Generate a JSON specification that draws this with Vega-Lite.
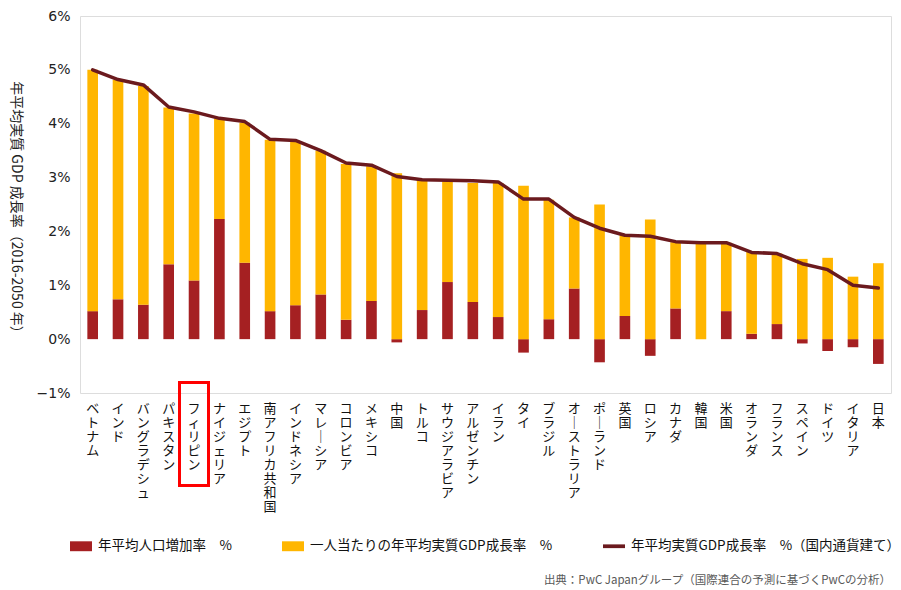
{
  "$schema": "https://vega.github.io/schema/vega-lite/v6.json",
  "autosize": {"type": "none"},
  "padding": {"left": 80, "top": 16, "right": 10, "bottom": 197},
  "width": 811,
  "height": 377,
  "background": "white",
  "title": {
    "text": "出典：PwC Japanグループ（国際連合の予測に基づくPwCの分析）",
    "orient": "bottom",
    "anchor": "end",
    "frame": "group",
    "offset": 22,
    "fontSize": 11.5,
    "fontWeight": "normal",
    "font": "Noto Sans CJK JP",
    "color": "#595959"
  },
  "data": {
    "values": [
      {"country": "ベトナム", "年平均人口増加率　%": 0.52, "一人当たりの年平均実質GDP成長率　%": 4.48, "total": 5.00},
      {"country": "インド", "年平均人口増加率　%": 0.74, "一人当たりの年平均実質GDP成長率　%": 4.07, "total": 4.82},
      {"country": "バングラデシュ", "年平均人口増加率　%": 0.64, "一人当たりの年平均実質GDP成長率　%": 4.06, "total": 4.72},
      {"country": "パキスタン", "年平均人口増加率　%": 1.39, "一人当たりの年平均実質GDP成長率　%": 2.91, "total": 4.31},
      {"country": "フィリピン", "年平均人口増加率　%": 1.09, "一人当たりの年平均実質GDP成長率　%": 3.10, "total": 4.22},
      {"country": "ナイジェリア", "年平均人口増加率　%": 2.23, "一人当たりの年平均実質GDP成長率　%": 1.86, "total": 4.10},
      {"country": "エジプト", "年平均人口増加率　%": 1.42, "一人当たりの年平均実質GDP成長率　%": 2.60, "total": 4.04},
      {"country": "南アフリカ共和国", "年平均人口増加率　%": 0.52, "一人当たりの年平均実質GDP成長率　%": 3.18, "total": 3.71},
      {"country": "インドネシア", "年平均人口増加率　%": 0.63, "一人当たりの年平均実質GDP成長率　%": 3.04, "total": 3.69},
      {"country": "マレーシア", "年平均人口増加率　%": 0.83, "一人当たりの年平均実質GDP成長率　%": 2.67, "total": 3.50},
      {"country": "コロンビア", "年平均人口増加率　%": 0.36, "一人当たりの年平均実質GDP成長率　%": 2.89, "total": 3.27},
      {"country": "メキシコ", "年平均人口増加率　%": 0.71, "一人当たりの年平均実質GDP成長率　%": 2.50, "total": 3.23},
      {"country": "中国", "年平均人口増加率　%": -0.06, "一人当たりの年平均実質GDP成長率　%": 3.08, "total": 3.02},
      {"country": "トルコ", "年平均人口増加率　%": 0.54, "一人当たりの年平均実質GDP成長率　%": 2.42, "total": 2.96},
      {"country": "サウジアラビア", "年平均人口増加率　%": 1.06, "一人当たりの年平均実質GDP成長率　%": 1.87, "total": 2.95},
      {"country": "アルゼンチン", "年平均人口増加率　%": 0.69, "一人当たりの年平均実質GDP成長率　%": 2.21, "total": 2.94},
      {"country": "イラン", "年平均人口増加率　%": 0.41, "一人当たりの年平均実質GDP成長率　%": 2.49, "total": 2.92},
      {"country": "タイ", "年平均人口増加率　%": -0.25, "一人当たりの年平均実質GDP成長率　%": 2.85, "total": 2.60},
      {"country": "ブラジル", "年平均人口増加率　%": 0.37, "一人当たりの年平均実質GDP成長率　%": 2.22, "total": 2.60},
      {"country": "オーストラリア", "年平均人口増加率　%": 0.94, "一人当たりの年平均実質GDP成長率　%": 1.32, "total": 2.26},
      {"country": "ポーランド", "年平均人口増加率　%": -0.43, "一人当たりの年平均実質GDP成長率　%": 2.50, "total": 2.06},
      {"country": "英国", "年平均人口増加率　%": 0.43, "一人当たりの年平均実質GDP成長率　%": 1.50, "total": 1.93},
      {"country": "ロシア", "年平均人口増加率　%": -0.31, "一人当たりの年平均実質GDP成長率　%": 2.22, "total": 1.91},
      {"country": "カナダ", "年平均人口増加率　%": 0.57, "一人当たりの年平均実質GDP成長率　%": 1.23, "total": 1.81},
      {"country": "韓国", "年平均人口増加率　%": 0.0, "一人当たりの年平均実質GDP成長率　%": 1.79, "total": 1.79},
      {"country": "米国", "年平均人口増加率　%": 0.52, "一人当たりの年平均実質GDP成長率　%": 1.27, "total": 1.79},
      {"country": "オランダ", "年平均人口増加率　%": 0.10, "一人当たりの年平均実質GDP成長率　%": 1.52, "total": 1.61},
      {"country": "フランス", "年平均人口増加率　%": 0.28, "一人当たりの年平均実質GDP成長率　%": 1.31, "total": 1.59},
      {"country": "スペイン", "年平均人口増加率　%": -0.08, "一人当たりの年平均実質GDP成長率　%": 1.49, "total": 1.40},
      {"country": "ドイツ", "年平均人口増加率　%": -0.22, "一人当たりの年平均実質GDP成長率　%": 1.51, "total": 1.29},
      {"country": "イタリア", "年平均人口増加率　%": -0.15, "一人当たりの年平均実質GDP成長率　%": 1.16, "total": 1.00},
      {"country": "日本", "年平均人口増加率　%": -0.46, "一人当たりの年平均実質GDP成長率　%": 1.41, "total": 0.95}
    ]
  },
  "encoding": {
    "x": {
      "field": "country",
      "type": "nominal",
      "sort": null,
      "scale": {"paddingInner": 0.58, "paddingOuter": 0.29},
      "axis": {
        "title": null,
        "orient": "bottom",
        "labelAngle": 0,
        "labelAlign": "center",
        "labelBaseline": "top",
        "labelFont": "Noto Sans CJK JP",
        "labelFontSize": 13,
        "labelLineHeight": 14,
        "labelColor": "#111111",
        "labelPadding": 9,
        "labelLimit": 0,
        "labelOverlap": false,
        "labelExpr": "split(replace(datum.label, regexp('ー', 'g'), '｜'), '')",
        "ticks": false,
        "domain": false,
        "grid": false
      }
    }
  },
  "layer": [
    {
      "transform": [
        {"fold": ["年平均人口増加率　%", "一人当たりの年平均実質GDP成長率　%"], "as": ["series", "value"]}
      ],
      "mark": {"type": "bar"},
      "encoding": {
        "y": {
          "field": "value",
          "type": "quantitative",
          "stack": "zero",
          "scale": {"domain": [-1, 6], "nice": false, "zero": false},
          "axis": {
            "values": [-1, 0, 1, 2, 3, 4, 5, 6],
            "labelExpr": "datum.value < 0 ? '−' + abs(datum.value) + '%' : datum.value + '%'",
            "labelFont": "DejaVu Sans",
            "labelFontSize": 14,
            "labelColor": "#222222",
            "labelPadding": 10,
            "ticks": false,
            "domain": false,
            "grid": false,
            "title": "年平均実質 GDP 成長率（2016-2050 年）",
            "titleFont": "Noto Sans CJK JP",
            "titleFontSize": 14,
            "titleFontWeight": "normal",
            "titleColor": "#222222",
            "titleAngle": 90,
            "titleX": -65,
            "titleY": 194,
            "titleAlign": "center",
            "titleBaseline": "middle"
          }
        },
        "color": {
          "field": "series",
          "type": "nominal",
          "scale": {
            "domain": ["年平均人口増加率　%", "一人当たりの年平均実質GDP成長率　%", "年平均実質GDP成長率　%（国内通貨建て）"],
            "range": ["#A52022", "#FFB600", "#6B1A1E"]
          },
          "legend": {
            "title": null,
            "orient": "none",
            "direction": "horizontal",
            "legendX": -10,
            "legendY": 519,
            "labelFont": "Noto Sans CJK JP",
            "labelFontSize": 13.5,
            "labelColor": "#111111",
            "labelLimit": 0,
            "labelOffset": 6,
            "columnPadding": 50,
            "symbolSize": 484,
            "symbolStrokeWidth": 0,
            "symbolType": "M-1,-0.45L1,-0.45L1,0.45L-1,0.45Z",
            "encode": {
              "symbols": {
                "update": {
                  "shape": {"signal": "indexof(datum.label, '国内') >= 0 ? 'M-1,-0.17L1,-0.17L1,0.17L-1,0.17Z' : 'M-1,-0.45L1,-0.45L1,0.45L-1,0.45Z'"},
                  "strokeWidth": {"value": 0}
                }
              }
            }
          }
        },
        "order": {"field": "series", "sort": "descending"}
      }
    },
    {
      "mark": {"type": "rule", "color": "#A6A6A6", "strokeWidth": 2},
      "encoding": {"y": {"datum": 0}}
    },
    {
      "mark": {"type": "line", "strokeWidth": 3.5, "strokeCap": "round", "strokeJoin": "round"},
      "encoding": {
        "x": {"field": "country", "type": "nominal", "sort": null, "bandPosition": 0.5},
        "y": {"field": "total", "type": "quantitative"},
        "color": {"datum": "年平均実質GDP成長率　%（国内通貨建て）"}
      }
    },
    {
      "mark": {"type": "rect", "filled": false, "stroke": "#FF0000", "strokeWidth": 2.5, "width": 29, "clip": false},
      "encoding": {
        "x": {"datum": "フィリピン"},
        "y": {"datum": -0.8},
        "y2": {"datum": -2.72}
      }
    }
  ]
}
